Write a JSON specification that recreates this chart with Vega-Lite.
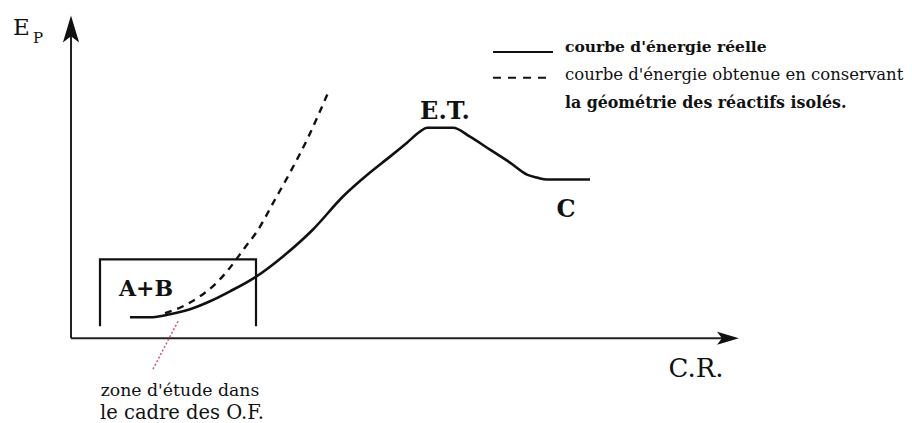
{
  "$schema": "https://vega.github.io/schema/vega-lite/v6.json",
  "width": 912,
  "height": 423,
  "autosize": {"type": "fit", "contains": "padding"},
  "padding": 0,
  "background": "white",
  "config": {"view": {"stroke": null}, "axis": {"disable": true}},
  "datasets": {
    "reelle": [
      {"cr": 59, "ep": 21}, {"cr": 79, "ep": 21}, {"cr": 99, "ep": 24}, {"cr": 119, "ep": 29},
      {"cr": 139, "ep": 37}, {"cr": 159, "ep": 47}, {"cr": 184, "ep": 61}, {"cr": 212, "ep": 82},
      {"cr": 242, "ep": 109}, {"cr": 272, "ep": 142}, {"cr": 299, "ep": 166}, {"cr": 319, "ep": 182},
      {"cr": 336, "ep": 196}, {"cr": 349, "ep": 207}, {"cr": 356, "ep": 211}, {"cr": 382, "ep": 211},
      {"cr": 399, "ep": 202}, {"cr": 419, "ep": 189}, {"cr": 439, "ep": 176}, {"cr": 456, "ep": 164},
      {"cr": 466, "ep": 161}, {"cr": 476, "ep": 159}, {"cr": 519, "ep": 159}
    ],
    "figee": [
      {"cr": 94, "ep": 25}, {"cr": 114, "ep": 33}, {"cr": 129, "ep": 42}, {"cr": 144, "ep": 54},
      {"cr": 156, "ep": 67}, {"cr": 174, "ep": 91}, {"cr": 186, "ep": 107}, {"cr": 204, "ep": 139},
      {"cr": 219, "ep": 166}, {"cr": 237, "ep": 201}, {"cr": 257, "ep": 246}
    ],
    "traits": [
      {"id": "axe_y", "i": 0, "cr": 0, "ep": 0}, {"id": "axe_y", "i": 1, "cr": 0, "ep": 312},
      {"id": "axe_x", "i": 0, "cr": 0, "ep": 0}, {"id": "axe_x", "i": 1, "cr": 652, "ep": 0},
      {"id": "cadre", "i": 0, "cr": 29, "ep": 12}, {"id": "cadre", "i": 1, "cr": 29, "ep": 79},
      {"id": "cadre", "i": 2, "cr": 185, "ep": 79}, {"id": "cadre", "i": 3, "cr": 185, "ep": 12},
      {"id": "leg_plein", "i": 0, "cr": 422, "ep": 287}, {"id": "leg_plein", "i": 1, "cr": 482, "ep": 287}
    ],
    "fleches": [
      {"cr": 0, "ep": 310, "angle": 0, "taille": 729},
      {"cr": 657, "ep": 0, "angle": 90, "taille": 480}
    ],
    "textes": [
      {"t": "E", "cr": -58, "ep": 304, "s": 23, "style": "reg", "align": "left"},
      {"t": "P", "cr": -38, "ep": 296, "s": 15, "style": "reg", "align": "left"},
      {"t": "C.R.", "cr": 625, "ep": -39, "s": 26, "style": "reg", "align": "center"},
      {"t": "A+B", "cr": 75, "ep": 42, "s": 22, "style": "bold", "align": "center"},
      {"t": "E.T.", "cr": 374, "ep": 220, "s": 24, "style": "bold", "align": "center"},
      {"t": "C", "cr": 495, "ep": 121, "s": 24, "style": "bold", "align": "center"},
      {"t": "courbe d'énergie réelle", "cr": 494, "ep": 287, "s": 15.5, "style": "bold", "align": "left"},
      {"t": "courbe d'énergie obtenue en conservant", "cr": 494, "ep": 259, "s": 16.5, "style": "reg", "align": "left"},
      {"t": "la géométrie des réactifs isolés.", "cr": 494, "ep": 231, "s": 15.8, "style": "bold", "align": "left"},
      {"t": "zone d'étude dans", "cr": 109, "ep": -58, "s": 17.3, "style": "reg", "align": "center"},
      {"t": "le cadre des O.F.", "cr": 111, "ep": -81, "s": 19.5, "style": "reg", "align": "center"}
    ]
  },
  "encoding": {
    "x": {"field": "cr", "type": "quantitative", "scale": {"domain": [-71, 841], "nice": false, "zero": false}},
    "y": {"field": "ep", "type": "quantitative", "scale": {"domain": [-84, 339], "nice": false, "zero": false}}
  },
  "layer": [
    {
      "data": {"name": "traits"},
      "transform": [{"filter": "datum.id === 'axe_x' || datum.id === 'axe_y'"}],
      "mark": {"type": "line", "color": "#222", "strokeWidth": 2},
      "encoding": {"detail": {"field": "id"}, "order": {"field": "i"}}
    },
    {
      "data": {"name": "traits"},
      "transform": [{"filter": "datum.id === 'cadre'"}],
      "mark": {"type": "line", "color": "#111", "strokeWidth": 2.2},
      "encoding": {"order": {"field": "i"}}
    },
    {
      "data": {"name": "traits"},
      "transform": [{"filter": "datum.id === 'leg_plein'"}],
      "mark": {"type": "line", "color": "#111", "strokeWidth": 2},
      "encoding": {"order": {"field": "i"}}
    },
    {
      "data": {"values": [{"cr": 422, "ep": 261, "i": 0}, {"cr": 482, "ep": 261, "i": 1}]},
      "mark": {"type": "line", "color": "#111", "strokeWidth": 2, "strokeDash": [8, 7]},
      "encoding": {"order": {"field": "i"}}
    },
    {
      "data": {"values": [{"cr": 107, "ep": 17, "i": 0}, {"cr": 82, "ep": -31, "i": 1}]},
      "mark": {"type": "line", "color": "#d4507e", "strokeWidth": 1.5, "strokeDash": [2, 2]},
      "encoding": {"order": {"field": "i"}}
    },
    {
      "data": {"name": "figee"},
      "mark": {"type": "line", "color": "#111", "strokeWidth": 2.4, "strokeDash": [7, 6], "interpolate": "monotone"}
    },
    {
      "data": {"name": "reelle"},
      "mark": {"type": "line", "color": "#111", "strokeWidth": 2.6, "interpolate": "monotone"}
    },
    {
      "data": {"name": "fleches"},
      "mark": {"type": "point", "shape": "M0,-1L0.6,1L0,0.55L-0.6,1Z", "filled": true, "color": "#111", "opacity": 1},
      "encoding": {
        "angle": {"field": "angle", "type": "quantitative", "scale": null},
        "size": {"field": "taille", "type": "quantitative", "scale": null}
      }
    },
    {
      "data": {"name": "textes"},
      "transform": [{"filter": "datum.style === 'reg' && datum.align === 'left'"}],
      "mark": {"type": "text", "font": "DejaVu Serif", "align": "left", "baseline": "alphabetic", "color": "#111"},
      "encoding": {"text": {"field": "t"}, "size": {"field": "s", "type": "quantitative", "scale": null}}
    },
    {
      "data": {"name": "textes"},
      "transform": [{"filter": "datum.style === 'reg' && datum.align === 'center'"}],
      "mark": {"type": "text", "font": "DejaVu Serif", "align": "center", "baseline": "alphabetic", "color": "#111"},
      "encoding": {"text": {"field": "t"}, "size": {"field": "s", "type": "quantitative", "scale": null}}
    },
    {
      "data": {"name": "textes"},
      "transform": [{"filter": "datum.style === 'bold' && datum.align === 'left'"}],
      "mark": {"type": "text", "font": "DejaVu Serif", "fontWeight": "bold", "align": "left", "baseline": "alphabetic", "color": "#111"},
      "encoding": {"text": {"field": "t"}, "size": {"field": "s", "type": "quantitative", "scale": null}}
    },
    {
      "data": {"name": "textes"},
      "transform": [{"filter": "datum.style === 'bold' && datum.align === 'center'"}],
      "mark": {"type": "text", "font": "DejaVu Serif", "fontWeight": "bold", "align": "center", "baseline": "alphabetic", "color": "#111"},
      "encoding": {"text": {"field": "t"}, "size": {"field": "s", "type": "quantitative", "scale": null}}
    }
  ]
}
